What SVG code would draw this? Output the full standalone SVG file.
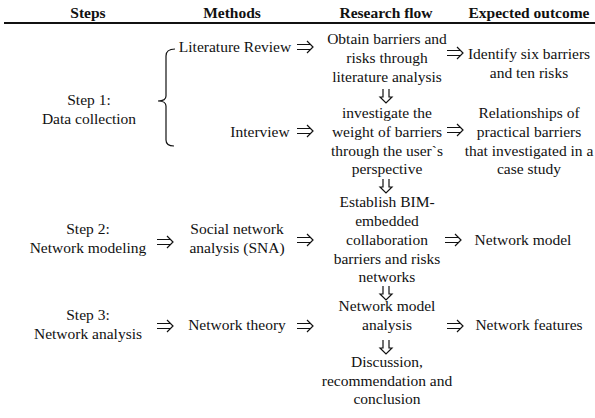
<svg xmlns="http://www.w3.org/2000/svg" width="595" height="418" viewBox="0 0 595 418" font-family="Liberation Serif, Times New Roman, serif">
<style>
text{font-size:15.5px;fill:#111;text-anchor:middle}
.h{font-weight:bold}
.a{fill:none;stroke:#111;stroke-width:1.2}
</style>
<defs>
<path id="ra" d="M0,-2.5 H13 M0,2.5 H13 M10,-6 L16,0 L10,6"/>
<path id="da" d="M-3,0 V8 L-6,8 L0,14 L6,8 L3,8 V0"/>
</defs>
<rect width="595" height="418" fill="#fff"/>
<g id="header">
<text class="h" x="88" y="18">Steps</text>
<text class="h" x="232" y="18">Methods</text>
<text class="h" x="386" y="18">Research flow</text>
<text class="h" x="529" y="18">Expected outcome</text>
<line x1="4" y1="23" x2="595" y2="23" stroke="#111" stroke-width="2"/>
</g>
<g id="step1"><text x="89" y="105">Step 1:</text><text x="89" y="124">Data collection</text></g>
<g id="step2"><text x="88" y="234">Step 2:</text><text x="88" y="253">Network modeling</text></g>
<g id="step3"><text x="88" y="320">Step 3:</text><text x="88" y="339">Network analysis</text></g>
<g id="lit"><text x="235" y="52">Literature Review</text></g>
<g id="interview"><text x="260" y="137">Interview</text></g>
<g id="sna"><text x="237" y="234">Social network</text><text x="237" y="253">analysis (SNA)</text></g>
<g id="theory"><text x="237" y="330">Network theory</text></g>
<g id="obtain"><text x="387" y="44">Obtain barriers and</text><text x="387" y="63">risks through</text><text x="387" y="82">literature analysis</text></g>
<g id="investigate"><text x="387" y="118">investigate the</text><text x="387" y="137">weight of barriers</text><text x="387" y="156">through the user`s</text><text x="387" y="174">perspective</text></g>
<g id="establish"><text x="387" y="207">Establish BIM-</text><text x="387" y="226">embedded</text><text x="387" y="245">collaboration</text><text x="387" y="264">barriers and risks</text><text x="387" y="282">networks</text></g>
<g id="nmanalysis"><text x="387" y="311">Network model</text><text x="387" y="330">analysis</text></g>
<g id="discussion"><text x="387" y="367">Discussion,</text><text x="387" y="386">recommendation and</text><text x="387" y="404">conclusion</text></g>
<g id="identify"><text x="529" y="59">Identify six barriers</text><text x="529" y="78">and ten risks</text></g>
<g id="relationships"><text x="529" y="118">Relationships of</text><text x="529" y="137">practical barriers</text><text x="529" y="156">that investigated in a</text><text x="529" y="174">case study</text></g>
<g id="netmodel"><text x="523" y="245">Network model</text></g>
<g id="features"><text x="529" y="330">Network features</text></g>
<g id="connectors" class="a">
<path d="M175,49 Q166,49 166,56 V96 Q166,101 158,101 Q166,101 166,106 V140 Q166,146 174,146"/>
<use href="#ra" x="297" y="47"/>
<use href="#ra" x="447" y="53"/>
<use href="#ra" x="297" y="131"/>
<use href="#ra" x="447" y="130"/>
<use href="#ra" x="157" y="242"/>
<use href="#ra" x="297" y="240"/>
<use href="#ra" x="445" y="240"/>
<use href="#ra" x="157" y="326"/>
<use href="#ra" x="297" y="326"/>
<use href="#ra" x="447" y="326"/>
<use href="#da" x="386" y="89"/>
<use href="#da" x="386" y="179"/>
<use href="#da" x="386" y="286"/>
<use href="#da" x="386" y="340"/>
</g>
</svg>
